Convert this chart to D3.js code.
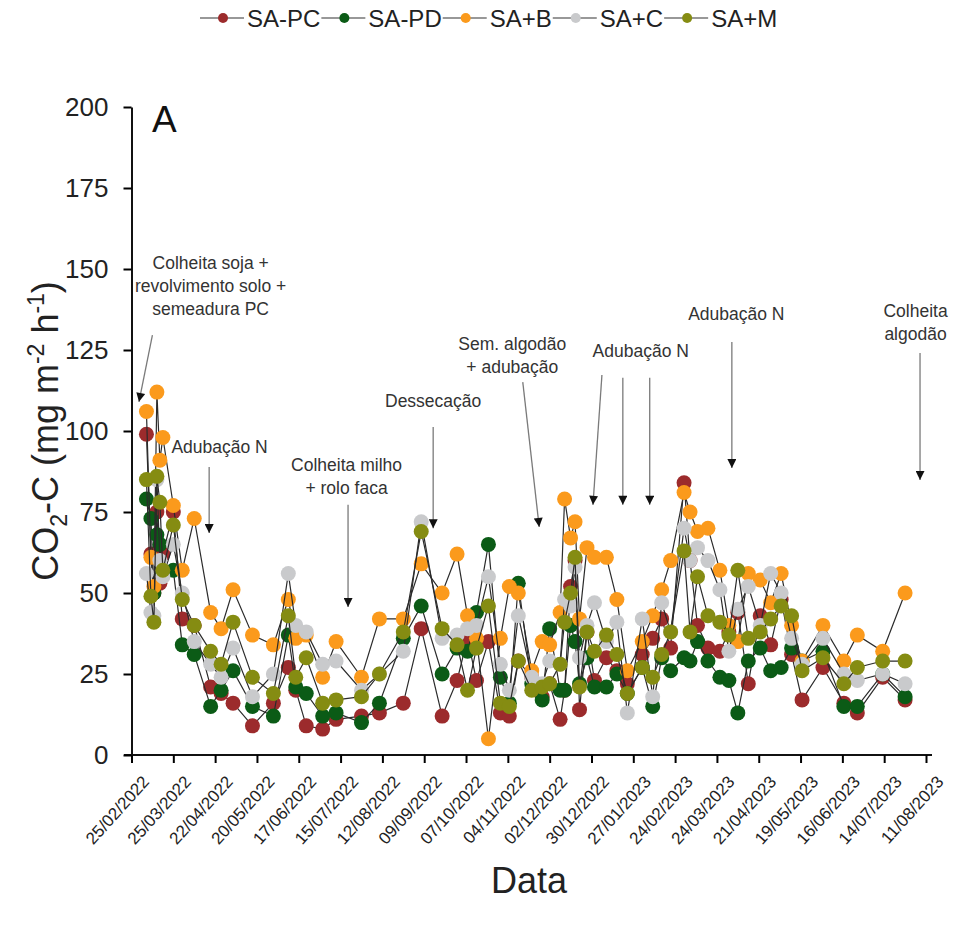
<!DOCTYPE html>
<html>
<head>
<meta charset="utf-8">
<script src="https://cdn.jsdelivr.net/npm/d3@7"></script>
<style>
  body { margin: 0; background: #fff; }
  svg { font-family: "Liberation Sans", Arial, sans-serif; }
</style>
</head>
<body>
<div id="chart"></div>
<script>
// sampling dates
var dates = [
  "07/03/2022","10/03/2022","12/03/2022","14/03/2022","16/03/2022","18/03/2022","25/03/2022","31/03/2022",
  "08/04/2022","19/04/2022","26/04/2022","04/05/2022","17/05/2022","31/05/2022","10/06/2022","15/06/2022",
  "22/06/2022","03/07/2022","12/07/2022","29/07/2022","10/08/2022","26/08/2022","07/09/2022","21/09/2022",
  "01/10/2022","08/10/2022","14/10/2022","22/10/2022","30/10/2022","05/11/2022","11/11/2022","20/11/2022",
  "27/11/2022","02/12/2022","09/12/2022","12/12/2022","16/12/2022","19/12/2022","22/12/2022","27/12/2022",
  "01/01/2023","09/01/2023","16/01/2023","23/01/2023","02/02/2023","09/02/2023","15/02/2023","21/02/2023",
  "02/03/2023","06/03/2023","11/03/2023","18/03/2023","26/03/2023","01/04/2023","07/04/2023","14/04/2023",
  "22/04/2023","29/04/2023","06/05/2023","13/05/2023","20/05/2023","03/06/2023","17/06/2023","26/06/2023",
  "13/07/2023","28/07/2023"
];

var saPC = [99,62,50,75,53,62,75,42, 40,21,19,16,9,16,27,20, 9,8,11,12,13,16,39,12,
  23,36,23,35,13,12,29,24, 18,22,11,20,52,60,14,38, 23,30,26,22,31,36,42,33,
  84,60,40,33,32,38,44,22, 43,34,48,31,17,27,16,13, 24,17];
var saPD = [79,73,50,68,65,56,57,34, 31,15,20,26,15,12,37,21, 19,12,13,10,16,36,46,25,
  33,32,44,65,24,16,53,22, 17,39,20,20,40,35,22,30, 21,21,25,19,27,15,30,26,
  30,29,35,29,24,23,13,29, 33,26,27,33,29,32,15,15, 25,18];
var saB = [106,61,52,112,91,98,77,57, 73,44,39,51,37,34,48,36, 37,24,35,24,42,42,59,50,
  62,43,36,5,36,52,50,26, 35,34,44,79,67,72,42,64, 61,61,48,26,35,43,51,60,
  81,75,69,70,57,40,35,56, 54,47,56,40,29,40,29,37, 32,50];
var saC = [56,44,43,85,60,55,65,50, 35,28,24,33,18,25,56,40, 38,28,29,20,25,32,72,36,
  37,39,40,55,28,20,43,24, 22,29,28,48,46,58,30,40, 47,35,41,13,42,18,47,38,
  70,60,64,60,51,32,45,52, 40,56,50,36,28,36,25,23, 25,22];
var saM = [85,49,41,86,78,57,71,48, 40,32,28,41,24,19,43,24, 30,16,17,18,25,38,69,39,
  34,20,33,46,16,15,29,20, 21,22,28,41,50,61,21,38, 32,37,31,19,27,24,31,38,
  63,38,55,43,41,37,57,36, 38,42,46,43,26,30,22,27, 29,29];

var seriesNames = ["SA-PC", "SA-PD", "SA+B", "SA+C", "SA+M"];
var seriesColors = ["#9c2b2c", "#0b5b16", "#fb9a1c", "#c9cacc", "#858c12"];
var seriesValues = [saPC, saPD, saB, saC, saM];

var yTicks = [0, 25, 50, 75, 100, 125, 150, 175, 200];

// field events: label lines, label anchor (date, value), arrows [date, value] -> [date, value]
var events = [
  { lines: ["Colheita soja +", "revolvimento solo +", "semeadura PC"], at: ["19/04/2022", 150],
    arrows: [[["11/03/2022", 129.6], ["02/03/2022", 109]]] },
  { lines: ["Adubação N"], at: ["25/04/2022", 93.2],
    arrows: [[["18/04/2022", 88.9], ["18/04/2022", 68.5]]] },
  { lines: ["Colheita milho", "+ rolo faca"], at: ["19/07/2022", 87.7],
    arrows: [[["20/07/2022", 77.2], ["20/07/2022", 45.7]]] },
  { lines: ["Dessecação"], at: ["15/09/2022", 107.4],
    arrows: [[["15/09/2022", 101.2], ["15/09/2022", 70]]] },
  { lines: ["Sem. algodão", "+ adubação"], at: ["07/11/2022", 125],
    arrows: [[["14/11/2022", 115.1], ["25/11/2022", 70.4]]] },
  { lines: ["Adubação N"], at: ["01/02/2023", 122.8],
    arrows: [[["06/01/2023", 117.3], ["31/12/2022", 77.2]],
             [["20/01/2023", 116.4], ["20/01/2023", 77.2]],
             [["07/02/2023", 116.4], ["07/02/2023", 77.2]]] },
  { lines: ["Adubação N"], at: ["06/04/2023", 134.3],
    arrows: [[["03/04/2023", 127.5], ["03/04/2023", 88.6]]] },
  { lines: ["Colheita", "algodão"], at: ["04/08/2023", 135.2],
    arrows: [[["07/08/2023", 124.1], ["07/08/2023", 84.9]]] }
];

var parse = d3.utcParse("%d/%m/%Y");
var fmt = d3.utcFormat("%d/%m/%Y");
var start = parse("25/02/2022");
var xTicks = d3.range(20).map(function(i){ return d3.utcDay.offset(start, 28 * i); });

var W = 954, H = 927;
var svg = d3.select("#chart").append("svg").attr("width", W).attr("height", H);

var x = d3.scaleUtc().domain([start, xTicks[xTicks.length - 1]]).range([131.5, 926]);
var y = d3.scaleLinear().domain([0, 200]).range([755, 107]);

// axes
var gx = svg.append("g").attr("transform", "translate(0,755)")
  .call(d3.axisBottom(x).tickValues(xTicks).tickFormat(fmt).tickSizeInner(8).tickSizeOuter(0));
gx.select(".domain").attr("d", "M124,0H932").attr("stroke-width", 2);
gx.selectAll(".tick line").attr("stroke-width", 2);
gx.selectAll(".tick text")
  .attr("font-size", 17).attr("fill", "#222")
  .attr("text-anchor", "end")
  .attr("dx", 0).attr("dy", 0)
  .attr("transform", "translate(10,20) rotate(-48)");

var gy = svg.append("g").attr("transform", "translate(131.5,0)")
  .call(d3.axisLeft(y).tickValues(yTicks).tickSizeInner(8).tickSizeOuter(0).tickPadding(15));
gy.select(".domain").attr("stroke-width", 2);
gy.selectAll(".tick line").attr("stroke-width", 2);
gy.selectAll(".tick text").attr("font-size", 26).attr("fill", "#222");
svg.selectAll(".domain").attr("stroke", "#111");

// series
var plot = svg.append("g");
seriesValues.forEach(function(vals, si){
  var pts = vals.map(function(v, i){ return { d: parse(dates[i]), v: v }; });
  plot.append("path")
    .datum(pts)
    .attr("fill", "none")
    .attr("stroke", "#2b2b2b")
    .attr("stroke-width", 1.2)
    .attr("d", d3.line().x(function(p){ return x(p.d); }).y(function(p){ return y(p.v); }));
  plot.selectAll(".pt" + si).data(pts).enter().append("circle")
    .attr("cx", function(p){ return x(p.d); })
    .attr("cy", function(p){ return y(p.v); })
    .attr("r", 7.5)
    .attr("fill", seriesColors[si]);
});

// arrows
var defs = svg.append("defs");
defs.append("marker").attr("id", "ah")
  .attr("viewBox", "0 0 10 10").attr("refX", 10).attr("refY", 5)
  .attr("markerUnits", "userSpaceOnUse")
  .attr("markerWidth", 14).attr("markerHeight", 9).attr("orient", "auto")
  .append("path").attr("d", "M0,0L10,5L0,10Z").attr("fill", "#111");

var ann = svg.append("g");
events.forEach(function(e){
  var tx = x(parse(e.at[0])), ty = y(e.at[1]);
  e.lines.forEach(function(l, k){
    ann.append("text").attr("x", tx).attr("y", ty + k * 23)
      .attr("text-anchor", "middle").attr("font-size", 17.5).attr("fill", "#333")
      .text(l);
  });
  e.arrows.forEach(function(a){
    ann.append("line")
      .attr("x1", x(parse(a[0][0]))).attr("y1", y(a[0][1]))
      .attr("x2", x(parse(a[1][0]))).attr("y2", y(a[1][1]))
      .attr("stroke", "#7a7a7a").attr("stroke-width", 1.3)
      .attr("marker-end", "url(#ah)");
  });
});

// panel letter
svg.append("text").attr("x", 152).attr("y", 132).attr("font-size", 37).attr("fill", "#111").text("A");

// axis titles
var yt = svg.append("text")
  .attr("transform", "translate(58,431) rotate(-90)")
  .attr("text-anchor", "middle").attr("font-size", 36).attr("fill", "#222");
yt.append("tspan").text("CO");
yt.append("tspan").attr("font-size", 23).attr("dy", 9).text("2");
yt.append("tspan").attr("dy", -9).text("-C (mg m");
yt.append("tspan").attr("font-size", 23).attr("dy", -14).text("-2");
yt.append("tspan").attr("dy", 14).text(" h");
yt.append("tspan").attr("font-size", 23).attr("dy", -14).text("-1");
yt.append("tspan").attr("dy", 14).text(")");

svg.append("text").attr("x", 529).attr("y", 893).attr("text-anchor", "middle")
  .attr("font-size", 36).attr("fill", "#222").text("Data");

// legend
var lg = svg.append("g").attr("transform", "translate(200,18)");
var lx = 0;
seriesNames.forEach(function(n, i){
  lg.append("line").attr("x1", lx).attr("x2", lx + 44).attr("y1", 0).attr("y2", 0)
    .attr("stroke", "#333").attr("stroke-width", 1.2);
  lg.append("circle").attr("cx", lx + 23).attr("cy", 0).attr("r", 5).attr("fill", seriesColors[i]);
  var t = lg.append("text").attr("x", lx + 47).attr("y", 8.5).attr("font-size", 24).attr("fill", "#222").text(n);
  lx += 47 + t.node().getComputedTextLength() + 1;
});
</script>
</body>
</html>
